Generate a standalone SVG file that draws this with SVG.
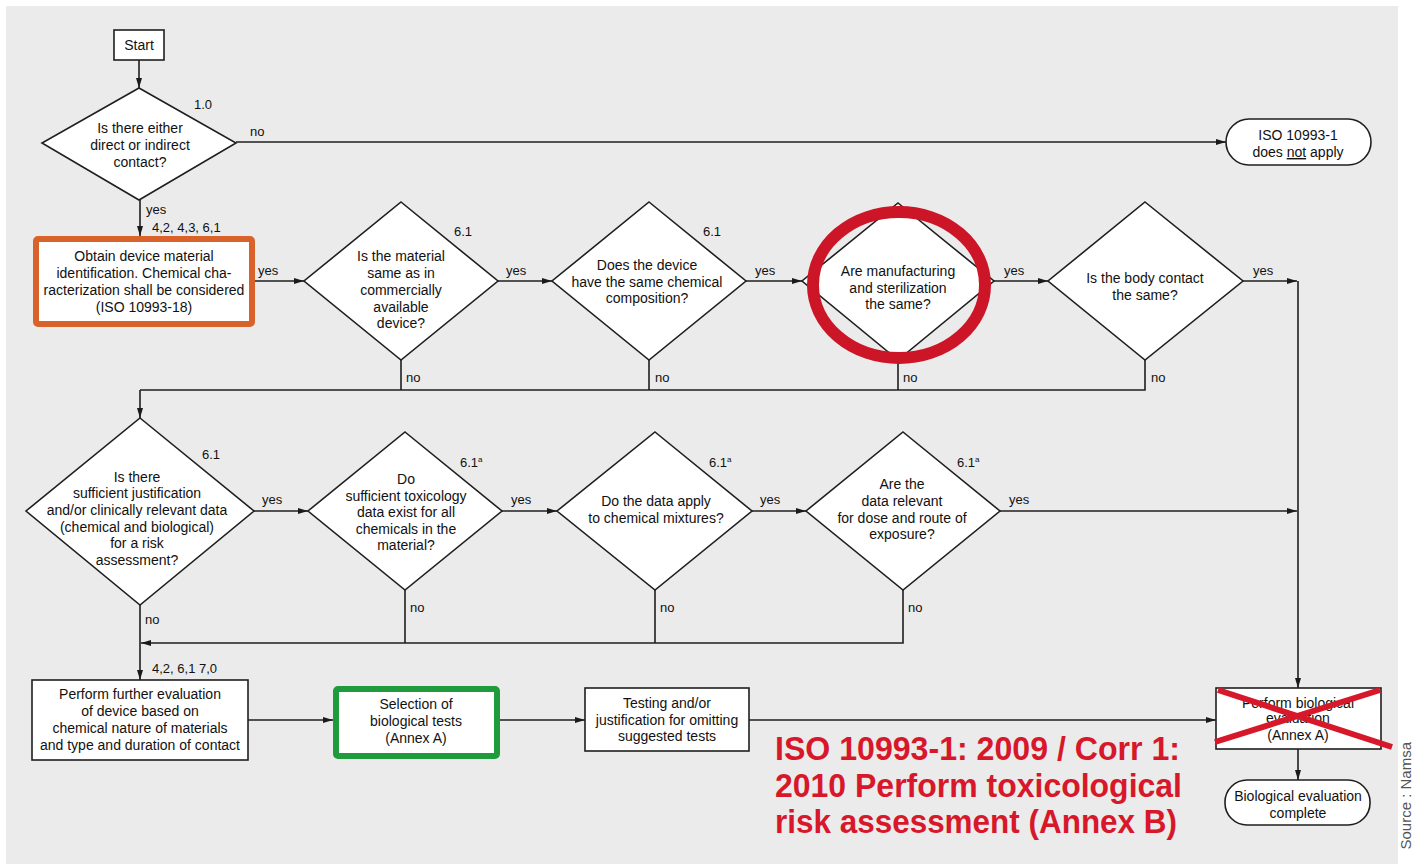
<svg xmlns="http://www.w3.org/2000/svg" width="1413" height="864" viewBox="0 0 1413 864">
<defs>
<marker id="ah" viewBox="0 0 10 6" refX="10" refY="3" markerWidth="10" markerHeight="6" markerUnits="userSpaceOnUse" orient="auto">
<path d="M0,0 L10,3 L0,6 z" fill="#1a1a1a"/>
</marker>
<style>
.bg{fill:#ebebeb}
.n{fill:#fff;stroke:#1f1f1f;stroke-width:1.6}
.t{font-family:"Liberation Sans Narrow","Liberation Sans",Arial,sans-serif;font-size:14px;fill:#111;text-anchor:middle}
.l{font-family:"Liberation Sans Narrow","Liberation Sans",Arial,sans-serif;font-size:13px;fill:#111}
.c{fill:none;stroke:#1f1f1f;stroke-width:1.6}
.ca{fill:none;stroke:#1f1f1f;stroke-width:1.6;marker-end:url(#ah)}
.red{font-family:"Liberation Sans",Arial,sans-serif;font-weight:bold;font-size:34px;fill:#d7182a}
</style>
</defs>
<rect x="0" y="0" width="1413" height="864" fill="#fff"/>
<rect class="bg" x="6" y="6" width="1392" height="858"/>

<g id="connectors">
<line class="ca" x1="139" y1="60" x2="139" y2="88"/>
<line class="ca" x1="236" y1="142" x2="1226" y2="142"/>
<line class="ca" x1="140" y1="200" x2="140" y2="236"/>
<line class="ca" x1="255" y1="281" x2="304" y2="281"/>
<line class="ca" x1="498" y1="281" x2="552" y2="281"/>
<line class="ca" x1="746" y1="281" x2="802" y2="281"/>
<line class="ca" x1="994" y1="281" x2="1048" y2="281"/>
<line class="ca" x1="1243" y1="281" x2="1297" y2="281"/>
<line class="ca" x1="1298" y1="281" x2="1298" y2="688"/>
<polyline class="c" points="401,360 401,390"/>
<polyline class="c" points="649,360 649,390"/>
<polyline class="c" points="898,360 898,390"/>
<polyline class="c" points="1145,360 1145,390 140,390"/>
<line class="ca" x1="140" y1="390" x2="140" y2="418"/>
<line class="ca" x1="254" y1="511" x2="308" y2="511"/>
<line class="ca" x1="502" y1="511" x2="557" y2="511"/>
<line class="ca" x1="752" y1="511" x2="806" y2="511"/>
<line class="ca" x1="1000" y1="511" x2="1297" y2="511"/>
<polyline class="c" points="405,590 405,643"/>
<polyline class="c" points="655,590 655,643"/>
<polyline class="ca" points="903,590 903,643 141,643"/>
<line class="ca" x1="140" y1="605" x2="140" y2="680"/>
<line class="ca" x1="248" y1="720" x2="333" y2="720"/>
<line class="ca" x1="500" y1="720" x2="585" y2="720"/>
<line class="ca" x1="749" y1="720" x2="1216" y2="720"/>
<line class="ca" x1="1298" y1="749" x2="1298" y2="780"/>
</g>

<g id="labels">
<text class="l" x="194" y="109">1.0</text>
<text class="l" x="250" y="136">no</text>
<text class="l" x="146" y="214">yes</text>
<text class="l" x="152" y="232">4,2, 4,3, 6,1</text>
<text class="l" x="258" y="275">yes</text>
<text class="l" x="454" y="236">6.1</text>
<text class="l" x="506" y="275">yes</text>
<text class="l" x="703" y="236">6.1</text>
<text class="l" x="755" y="275">yes</text>
<text class="l" x="1004" y="275">yes</text>
<text class="l" x="1253" y="275">yes</text>
<text class="l" x="406" y="382">no</text>
<text class="l" x="655" y="382">no</text>
<text class="l" x="903" y="382">no</text>
<text class="l" x="1151" y="382">no</text>
<text class="l" x="202" y="459">6.1</text>
<text class="l" x="262" y="504">yes</text>
<text class="l" x="460" y="467">6.1<tspan font-size="8" dy="-5">a</tspan></text>
<text class="l" x="511" y="504">yes</text>
<text class="l" x="709" y="467">6.1<tspan font-size="8" dy="-5">a</tspan></text>
<text class="l" x="760" y="504">yes</text>
<text class="l" x="957" y="467">6.1<tspan font-size="8" dy="-5">a</tspan></text>
<text class="l" x="1009" y="504">yes</text>
<text class="l" x="145" y="624">no</text>
<text class="l" x="410" y="612">no</text>
<text class="l" x="660" y="612">no</text>
<text class="l" x="908" y="612">no</text>
<text class="l" x="152" y="673">4,2, 6,1 7,0</text>
</g>

<g id="start">
<rect class="n" x="114" y="30" width="50" height="30"/>
<text class="t" x="139" y="50">Start</text>
</g>

<g id="d1">
<polygon class="n" points="139,88 236,143 139,200 42,143"/>
<text class="t"><tspan x="140" y="133">Is there either</tspan><tspan x="140" y="150">direct or indirect</tspan><tspan x="140" y="167">contact?</tspan></text>
</g>

<g id="notapply">
<rect class="n" x="1226" y="119" width="145" height="46" rx="23"/>
<text class="t"><tspan x="1298" y="140">ISO 10993-1</tspan><tspan x="1298" y="157">does <tspan text-decoration="underline">not</tspan> apply</tspan></text>
</g>

<g id="obtain">
<rect x="36" y="239" width="216" height="85" fill="#fff" stroke="#d9622b" stroke-width="6" rx="2"/>
<text class="t"><tspan x="144" y="261">Obtain device material</tspan><tspan x="144" y="278">identification. Chemical cha-</tspan><tspan x="144" y="295">racterization shall be considered</tspan><tspan x="144" y="312">(ISO 10993-18)</tspan></text>
</g>

<g id="d2">
<polygon class="n" points="401,202 498,281 401,360 304,281"/>
<text class="t"><tspan x="401" y="261">Is the material</tspan><tspan x="401" y="278">same as in</tspan><tspan x="401" y="295">commercially</tspan><tspan x="401" y="312">available</tspan><tspan x="401" y="328">device?</tspan></text>
</g>

<g id="d3">
<polygon class="n" points="649,202 746,281 649,360 552,281"/>
<text class="t"><tspan x="647" y="270">Does the device</tspan><tspan x="647" y="287">have the same chemical</tspan><tspan x="647" y="303">composition?</tspan></text>
</g>

<g id="d4">
<polygon class="n" points="898,203 994,281 898,360 802,281"/>
<text class="t"><tspan x="898" y="276">Are manufacturing</tspan><tspan x="898" y="293">and sterilization</tspan><tspan x="898" y="309">the same?</tspan></text>
<ellipse cx="899" cy="285" rx="86" ry="73" fill="none" stroke="#cc1628" stroke-width="12"/>
</g>

<g id="d5">
<polygon class="n" points="1145,202 1243,281 1145,360 1048,281"/>
<text class="t"><tspan x="1145" y="283">Is the body contact</tspan><tspan x="1145" y="300">the same?</tspan></text>
</g>

<g id="d6">
<polygon class="n" points="140,418 254,511 140,605 26,511"/>
<text class="t"><tspan x="137" y="482">Is there</tspan><tspan x="137" y="498">sufficient justification</tspan><tspan x="137" y="515">and/or clinically relevant data</tspan><tspan x="137" y="532">(chemical and biological)</tspan><tspan x="137" y="548">for a risk</tspan><tspan x="137" y="565">assessment?</tspan></text>
</g>

<g id="d7">
<polygon class="n" points="405,432 502,511 405,590 308,511"/>
<text class="t"><tspan x="406" y="484">Do</tspan><tspan x="406" y="501">sufficient toxicology</tspan><tspan x="406" y="517">data exist for all</tspan><tspan x="406" y="534">chemicals in the</tspan><tspan x="406" y="550">material?</tspan></text>
</g>

<g id="d8">
<polygon class="n" points="655,432 752,511 655,590 557,511"/>
<text class="t"><tspan x="656" y="506">Do the data apply</tspan><tspan x="656" y="523">to chemical mixtures?</tspan></text>
</g>

<g id="d9">
<polygon class="n" points="903,432 1000,511 903,590 806,511"/>
<text class="t"><tspan x="902" y="489">Are the</tspan><tspan x="902" y="506">data relevant</tspan><tspan x="902" y="523">for dose and route of</tspan><tspan x="902" y="539">exposure?</tspan></text>
</g>

<g id="further">
<rect class="n" x="32" y="680" width="216" height="80"/>
<text class="t"><tspan x="140" y="699">Perform further evaluation</tspan><tspan x="140" y="716">of device based on</tspan><tspan x="140" y="733">chemical nature of materials</tspan><tspan x="140" y="750">and type and duration of contact</tspan></text>
</g>

<g id="selection">
<rect x="336" y="689" width="161" height="67" fill="#fff" stroke="#1f9a3c" stroke-width="6" rx="2"/>
<text class="t"><tspan x="416" y="709">Selection of</tspan><tspan x="416" y="726">biological tests</tspan><tspan x="416" y="743">(Annex A)</tspan></text>
</g>

<g id="testing">
<rect class="n" x="585" y="688" width="164" height="63"/>
<text class="t"><tspan x="667" y="708">Testing and/or</tspan><tspan x="667" y="725">justification for omitting</tspan><tspan x="667" y="741">suggested tests</tspan></text>
</g>

<g id="perform-bio">
<rect class="n" x="1216" y="688" width="165" height="61"/>
<text class="t"><tspan x="1298" y="708">Perform biological</tspan><tspan x="1298" y="723">evaluation</tspan><tspan x="1298" y="740">(Annex A)</tspan></text>
<line x1="1215" y1="742" x2="1380" y2="690" stroke="#d7182a" stroke-width="6"/>
<line x1="1218" y1="690" x2="1392" y2="747" stroke="#d7182a" stroke-width="6"/>
</g>

<g id="complete">
<rect class="n" x="1225" y="780" width="145" height="45" rx="22"/>
<text class="t"><tspan x="1298" y="801">Biological evaluation</tspan><tspan x="1298" y="818">complete</tspan></text>
</g>

<g id="note">
<text class="red" x="775" y="760" textLength="405" lengthAdjust="spacingAndGlyphs">ISO 10993-1: 2009 / Corr 1:</text>
<text class="red" x="775" y="797" textLength="407" lengthAdjust="spacingAndGlyphs">2010 Perform toxicological</text>
<text class="red" x="775" y="833" textLength="402" lengthAdjust="spacingAndGlyphs">risk assessment (Annex B)</text>
</g>

<text transform="translate(1411,742) rotate(-90)" text-anchor="end" font-family="Liberation Sans, Arial, sans-serif" font-size="15" fill="#555">Source : Namsa</text>
</svg>
